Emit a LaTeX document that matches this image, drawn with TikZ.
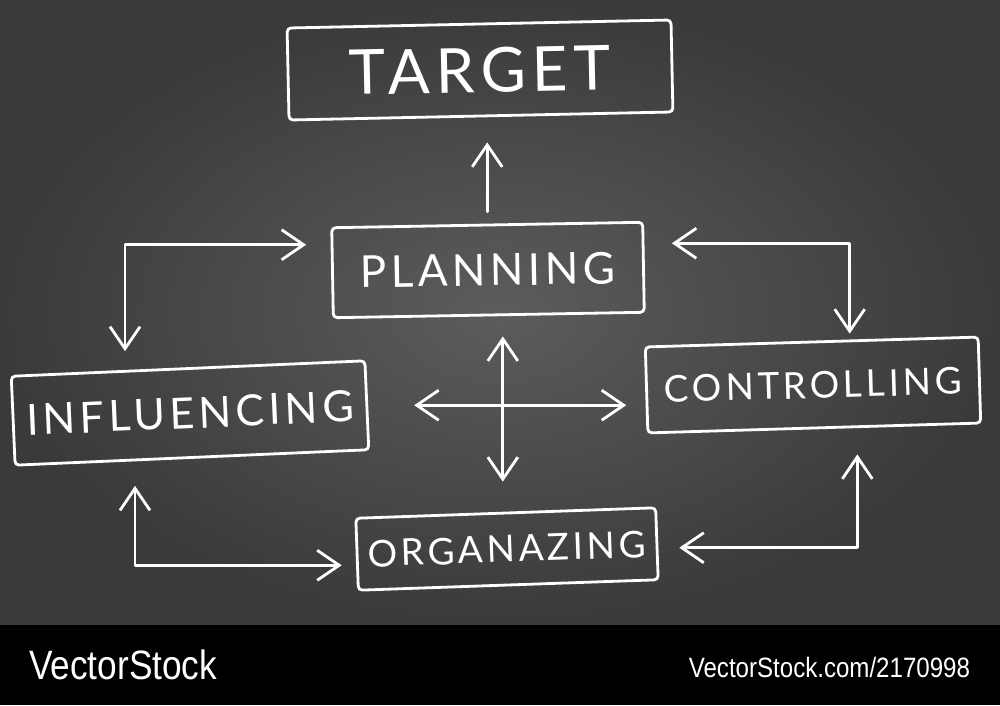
\documentclass[tikz,border=0pt]{standalone}
\usepackage{fontspec}
\newfontfamily\chalkfont[LetterSpace=10]{Lato}
\newfontfamily\markfont{Liberation Sans}
\usetikzlibrary{arrows.meta}
\definecolor{boardlight}{RGB}{92,92,92}
\definecolor{boarddark}{RGB}{58,58,58}

\begin{document}
\begin{tikzpicture}[
        x=1pt, y=-1pt,
        >={Straight Barb[length=22pt,width=30pt]},
        chalkbox/.style={draw=white, line width=2.8pt, rounded corners=4pt, text=white, font=\chalkfont, inner sep=0pt},
        link/.style={draw=white, line width=2.8pt, line join=round, line cap=round},
        stamp/.style={text=white, font=\markfont, xscale=0.86},
    ]

    \useasboundingbox (0,0) rectangle (1000,705);

    % Board and footer
    \shade[inner color=boardlight, outer color=boarddark] (0,0) rectangle (1000,625);
    \fill[black] (0,625) rectangle (1000,705);

    % Boxes
    \node[chalkbox, minimum width=384pt, minimum height=92pt, rotate=1.2] (TGT) at (480,70)
        {\fontsize{62}{62}\selectfont TARGET};
    \node[chalkbox, minimum width=311pt, minimum height=90pt, rotate=1] (PLN) at (488,270)
        {\fontsize{44}{44}\selectfont PLANNING};
    \node[chalkbox, minimum width=333pt, minimum height=86pt, rotate=1.7] (CTL) at (813,385)
        {\fontsize{37}{37}\selectfont CONTROLLING};
    \node[chalkbox, minimum width=354pt, minimum height=89pt, rotate=2.5] (INF) at (190,413)
        {\fontsize{43}{43}\selectfont INFLUENCING};
    \node[chalkbox, minimum width=300pt, minimum height=72pt, rotate=2] (ORG) at (507,549)
        {\fontsize{37}{37}\selectfont ORGANAZING};

    % Connectors
    \draw[link, ->, shorten <=12pt, shorten >=25pt] (PLN.north) -- (PLN.north |- TGT.south);

    \draw[link, <->, shorten <=25pt, shorten >=16pt] ([yshift=28pt]PLN.west) -| ([xshift=-63pt]INF.north);
    \draw[link, <->, shorten <=27pt, shorten >=7pt] ([yshift=24pt]PLN.east) -| ([xshift=38pt]CTL.north);
    \draw[link, <->, shorten <=25pt, shorten >=21pt] ([xshift=43pt]CTL.south) |- ([yshift=-4pt]ORG.east);
    \draw[link, <->, shorten <=27pt, shorten >=14pt] ([xshift=-57pt]INF.south) |- ([yshift=-11pt]ORG.west);

    \draw[link, <->, shorten <=20pt, shorten >=30pt] ([xshift=14pt]PLN.south) -- ([xshift=14pt]PLN.south |- ORG.north);
    \draw[link, <->, shorten <=46pt, shorten >=19pt] (INF.east) -- (INF.east -| CTL.west);

    % Footer text
    \node[stamp, anchor=base west] (VS) at (26,679) {\fontsize{41}{41}\selectfont VectorStock};
    \node[stamp, anchor=base east] (VSID) at (973,677) {\fontsize{28}{28}\selectfont VectorStock.com/2170998};
\end{tikzpicture}
\end{document}
